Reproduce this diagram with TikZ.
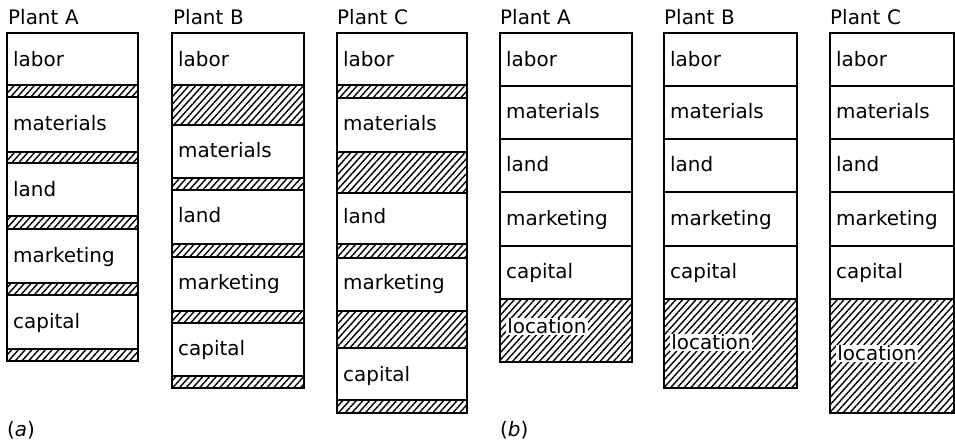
\documentclass[tikz,border=0pt]{standalone}
\usepackage{fontspec}
\setmainfont{DejaVu Sans}
\usetikzlibrary{patterns.meta}
\begin{document}
\begin{tikzpicture}[x=1bp,y=-1bp,
  band/.style={draw=black, line width=1.3bp},
  hatch/.style={band, pattern={Lines[angle=48,distance=5bp,line width=1.4bp]}},
  lbl/.style={anchor=base west, inner sep=0pt, font=\fontsize{20}{24}\selectfont},
  loc/.style={lbl, fill=white, inner sep=1.2bp}]
\useasboundingbox (0,0) rectangle (955,445);

% ---------- (a): cost items separated by hatched margins ----------
% Plant A
\foreach \t/\b in {85/97,152/163,216/229,283/295,349/361}
  \draw[hatch] (7,\t) rectangle (138,\b);
\draw[band] (7,33) rectangle (138,361);
\node[lbl] (aAt) at (8,25) {Plant\,\,A};
\node[lbl] (aA1) at (13,67) {labor};
\node[lbl] (aA2) at (13,131) {materials};
\node[lbl] (aA3) at (13,197) {land};
\node[lbl] (aA4) at (13,263) {marketing};
\node[lbl] (aA5) at (13,329) {capital};

% Plant B
\foreach \t/\b in {85/125,178/190,244/257,311/323,376/388}
  \draw[hatch] (172,\t) rectangle (304,\b);
\draw[band] (172,33) rectangle (304,388);
\node[lbl] (aBt) at (173,25) {Plant\,\,B};
\node[lbl] (aB1) at (178,67) {labor};
\node[lbl] (aB2) at (178,158) {materials};
\node[lbl] (aB3) at (178,223) {land};
\node[lbl] (aB4) at (178,290) {marketing};
\node[lbl] (aB5) at (178,356) {capital};

% Plant C
\foreach \t/\b in {85/98,152/193,244/258,311/348,400/413}
  \draw[hatch] (337,\t) rectangle (467,\b);
\draw[band] (337,33) rectangle (467,413);
\node[lbl] (aCt) at (337,25) {Plant\,\,C};
\node[lbl] (aC1) at (343,67) {labor};
\node[lbl] (aC2) at (343,131) {materials};
\node[lbl] (aC3) at (343,224) {land};
\node[lbl] (aC4) at (343,290) {marketing};
\node[lbl] (aC5) at (343,382) {capital};

\node[lbl] (capa) at (7,436) {(\textit{a})};

% ---------- (b): all differences gathered in location ----------
\foreach \xl/\xr/\bot/\lb/\name in {500/632/362/334/A, 664/797/388/350/B, 830/954/413/361/C}{
  \draw[hatch] (\xl,299) rectangle (\xr,\bot);
  \draw[band] (\xl,33) rectangle (\xr,\bot);
  \foreach \y in {86,139,192,246}
    \draw[band] (\xl,\y) -- (\xr,\y);
  \node[lbl] (bt\name) at (\xl,25) {Plant\,\,\name};
  \node[lbl] (b\name1) at ({\xl+6},67) {labor};
  \node[lbl] (b\name2) at ({\xl+6},119) {materials};
  \node[lbl] (b\name3) at ({\xl+6},172) {land};
  \node[lbl] (b\name4) at ({\xl+6},226) {marketing};
  \node[lbl] (b\name5) at ({\xl+6},279) {capital};
  \node[loc] (b\name6) at ({\xl+6},\lb) {location};
}

\node[lbl] (capb) at (500,436) {(\textit{b})};
\end{tikzpicture}
\end{document}
